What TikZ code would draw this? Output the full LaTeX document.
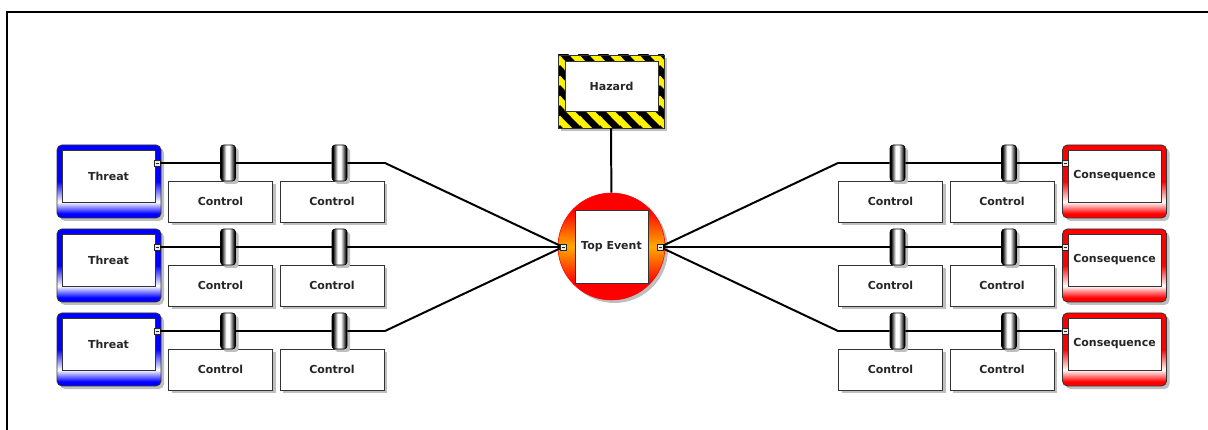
\documentclass[tikz,border=0pt]{standalone}
\usepackage{fontspec}
\setmainfont{DejaVu Sans}
\usetikzlibrary{calc,patterns,shadows}

\definecolor{eventorange}{RGB}{255,170,0}
\pgfdeclareverticalshading{threatshade}{100bp}{color(0bp)=(blue); color(28bp)=(blue); color(36bp)=(white); color(50bp)=(blue); color(100bp)=(blue)}
\pgfdeclareverticalshading{consshade}{100bp}{color(0bp)=(red); color(28bp)=(red); color(36bp)=(white); color(50bp)=(red); color(100bp)=(red)}
\pgfdeclareverticalshading{eventshade}{100bp}{color(0bp)=(red); color(33bp)=(red); color(50bp)=(eventorange); color(67bp)=(red); color(100bp)=(red)}
\pgfdeclarehorizontalshading{barriershade}{100bp}{color(0bp)=(black); color(28bp)=(black); color(44bp)=(white); color(54bp)=(white); color(72bp)=(black); color(100bp)=(black)}
\pgfdeclarepatternformonly{hazardstripes}{\pgfqpoint{0pt}{0pt}}{\pgfqpoint{20pt}{20pt}}{\pgfqpoint{20pt}{20pt}}{%
	\pgfsetlinewidth{7pt}%
	\pgfpathmoveto{\pgfqpoint{-2pt}{22pt}}\pgfpathlineto{\pgfqpoint{22pt}{-2pt}}%
	\pgfpathmoveto{\pgfqpoint{-12pt}{12pt}}\pgfpathlineto{\pgfqpoint{12pt}{-12pt}}%
	\pgfpathmoveto{\pgfqpoint{8pt}{32pt}}\pgfpathlineto{\pgfqpoint{32pt}{8pt}}%
	\pgfusepath{stroke}}

\tikzset{
	boxshadow/.style={drop shadow={shadow xshift=3pt, shadow yshift=-3pt, fill=black!25, opacity=1}},
	boxtext/.style={font=\bfseries\fontsize{11pt}{13pt}\selectfont, text=black!85},
	threatout/.style={rectangle, rounded corners=5pt, minimum width=104pt, minimum height=73pt, inner sep=0pt, draw=black!80, line width=0.3mm, boxshadow, shading=threatshade},
	consout/.style={threatout, shading=consshade},
	boxin/.style={rectangle, fill=white, draw=black!80, line width=0.3mm, minimum width=93pt, minimum height=52pt, inner sep=0pt, boxtext},
	controlbox/.style={rectangle, fill=white, draw=black!80, line width=0.3mm, minimum width=104pt, minimum height=41pt, inner sep=0pt, boxshadow, boxtext},
	barrier/.style={rectangle, rounded corners=3pt, minimum width=15pt, minimum height=36pt, inner sep=0pt, draw=black, line width=0.2mm, boxshadow, shading=barriershade},
	port/.style={rectangle, minimum size=6pt, inner sep=0pt, fill=black!8, draw=black!85, line width=0.2mm,
		path picture={\draw[line width=0.3pt] ($(path picture bounding box.center)+(-1.5,0)$) -- ($(path picture bounding box.center)+(1.5,0)$);}},
	hazardout/.style={rectangle, minimum width=106pt, minimum height=73pt, inner sep=0pt, draw=black!80, line width=0.2mm, boxshadow, preaction={fill=yellow}, pattern=hazardstripes, pattern color=black},
	eventout/.style={circle, minimum size=107pt, inner sep=0pt, draw=red, line width=0.2mm, boxshadow, shading=eventshade},
	eventin/.style={rectangle, fill=white, draw=black!80, line width=0.3mm, minimum size=73pt, inner sep=0pt, boxtext},
	link/.style={line width=0.7mm, color=black},
}

\begin{document}
\begin{tikzpicture}[x=1pt, y=-1pt]
		%%%%% START %%%%%
		\useasboundingbox (0, 0) rectangle (1208, 430);
		\draw[line width=0.5mm] (7, 430) -- (7, 12) -- (1208, 12);
		
		\node[hazardout] (hazard) at (611, 91.5) {};
		\node[boxin, minimum height=50pt] (hazardin) at (611.5, 86) {Hazard};
		
		\node[eventout] (event) at (611.5, 246.5) {};
		\node[eventin] (eventin) at (611.5, 246.5) {Top Event};
		\node[port] (eventl) at (563, 247) {};
		\node[port] (eventr) at (660, 247) {};
		\draw[link] (hazard) -- (event);
		
		\node[threatout] (thr1) at (109, 181.5) {};
		\node[boxin] (thr1in) at (108.5, 176) {Threat};
		\node[port] (thr1port) at (157, 163) {};
		\node[threatout] (thr2) at (109, 265.5) {};
		\node[boxin] (thr2in) at (108.5, 260) {Threat};
		\node[port] (thr2port) at (157, 247) {};
		\node[threatout] (thr3) at (109, 349.5) {};
		\node[boxin] (thr3in) at (108.5, 344) {Threat};
		\node[port] (thr3port) at (157, 331) {};
		
		\node[consout] (con1) at (1114.5, 181.5) {};
		\node[boxin] (con1in) at (1114.5, 176) {Consequence};
		\node[port] (con1port) at (1065, 163) {};
		\node[consout] (con2) at (1114.5, 265.5) {};
		\node[boxin] (con2in) at (1114.5, 260) {Consequence};
		\node[port] (con2port) at (1065, 247) {};
		\node[consout] (con3) at (1114.5, 349.5) {};
		\node[boxin] (con3in) at (1114.5, 344) {Consequence};
		\node[port] (con3port) at (1065, 331) {};
		
		\node[controlbox] (ctl11) at (220.5, 201.5) {Control};
		\node[controlbox] (ctl12) at (332, 201.5) {Control};
		\node[controlbox] (ctl13) at (890.5, 201.5) {Control};
		\node[controlbox] (ctl14) at (1002, 201.5) {Control};
		\node[controlbox] (ctl21) at (220.5, 285.5) {Control};
		\node[controlbox] (ctl22) at (332, 285.5) {Control};
		\node[controlbox] (ctl23) at (890.5, 285.5) {Control};
		\node[controlbox] (ctl24) at (1002, 285.5) {Control};
		\node[controlbox] (ctl31) at (220.5, 369.5) {Control};
		\node[controlbox] (ctl32) at (332, 369.5) {Control};
		\node[controlbox] (ctl33) at (890.5, 369.5) {Control};
		\node[controlbox] (ctl34) at (1002, 369.5) {Control};
		
		\node[barrier] (bar11) at (228, 163) {};
		\node[barrier] (bar12) at (339.5, 163) {};
		\node[barrier] (bar13) at (897.5, 163) {};
		\node[barrier] (bar14) at (1009, 163) {};
		\node[barrier] (bar21) at (228, 247) {};
		\node[barrier] (bar22) at (339.5, 247) {};
		\node[barrier] (bar23) at (897.5, 247) {};
		\node[barrier] (bar24) at (1009, 247) {};
		\node[barrier] (bar31) at (228, 331) {};
		\node[barrier] (bar32) at (339.5, 331) {};
		\node[barrier] (bar33) at (897.5, 331) {};
		\node[barrier] (bar34) at (1009, 331) {};
		
		\coordinate (k1l) at (385, 163);
		\coordinate (k3l) at (385, 331);
		\coordinate (k1r) at (838, 163);
		\coordinate (k3r) at (838, 331);
		
		\draw[link] (thr1port) -- (bar11) -- (bar12) -- (k1l) -- (eventl);
		\draw[link] (thr2port) -- (bar21) -- (bar22) -- (eventl);
		\draw[link] (thr3port) -- (bar31) -- (bar32) -- (k3l) -- (eventl);
		
		\draw[link] (eventr) -- (k1r) -- (bar13) -- (bar14) -- (con1port);
		\draw[link] (eventr) -- (bar23) -- (bar24) -- (con2port);
		\draw[link] (eventr) -- (k3r) -- (bar33) -- (bar34) -- (con3port);
		
		%%%%% END %%%%%
	\end{tikzpicture}
\end{document}
